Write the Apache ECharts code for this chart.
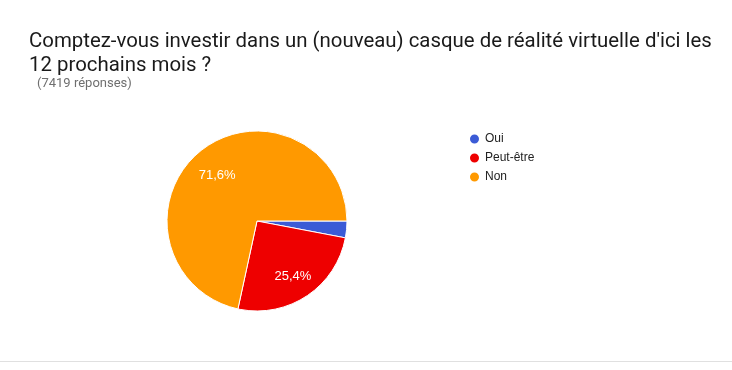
<!DOCTYPE html>
<html><head><meta charset="utf-8">
<script src="https://cdn.jsdelivr.net/npm/echarts@6/dist/echarts.min.js"></script>
<style>html,body{margin:0;padding:0;background:#fff}#c{width:732px;height:370px}</style>
</head><body><div id="c"></div>
<script>
const categories = ['Oui', 'Peut-être', 'Non'];
const values = [3.0, 25.4, 71.6];
const labels = ['', '25,4%', '71,6%'];
const colors = ['#3b5bd6', '#ee0000', '#ff9900'];

const chart = echarts.init(document.getElementById('c'), null, {renderer: 'canvas'});
const labelOffsets = {'Non': [1, 5], 'Peut-être': [0, 1]};
const data = categories.map((n, i) => ({name: n, value: values[i], itemStyle: {color: colors[i]}}));
const labelData = categories.map((n, i) => ({name: n, value: values[i],
  label: {show: labels[i] !== '', formatter: labels[i], offset: labelOffsets[n] || [0, 0]}}));
chart.setOption({
  animation: false,
  title: {
    text: "Comptez-vous investir dans un (nouveau) casque de réalité virtuelle d'ici les\n12 prochains mois ?",
    left: 29, top: 30,
    textStyle: {fontFamily: 'Roboto', fontSize: 20.4, fontWeight: 'normal', color: '#1a1a1a', lineHeight: 24},
    padding: 0
  },
  legend: {
    orient: 'vertical', left: 463, top: 127,
    icon: 'circle', itemWidth: 11, itemHeight: 11, itemGap: 5,
    textStyle: {fontFamily: 'Arial', fontSize: 12, color: '#222', lineHeight: 14},
    data: categories
  },
  graphic: [
    {type: 'rect', shape: {x: 0, y: 361, width: 732, height: 1}, style: {fill: '#e0e0e0'}},
    {type: 'text', left: 37, top: 77, style: {text: '(7419 réponses)', font: '13px Roboto', fill: '#6f6f6f'}}
  ],
  series: [{
    type: 'pie', center: [257, 221], radius: 90, startAngle: 0, clockwise: true,
    data: data, label: {show: false}, labelLine: {show: false},
    itemStyle: {borderColor: '#fff', borderWidth: 1}, emphasis: {disabled: true}
  }, {
    type: 'pie', center: [257, 221], radius: [34, 90], startAngle: 0, clockwise: true,
    data: labelData, silent: true, legendHoverLink: false,
    itemStyle: {color: 'rgba(0,0,0,0)'},
    label: {position: 'inside', color: '#fff', fontFamily: 'Arial', fontSize: 13},
    labelLine: {show: false}, emphasis: {disabled: true}
  }]
});
</script></body></html>
